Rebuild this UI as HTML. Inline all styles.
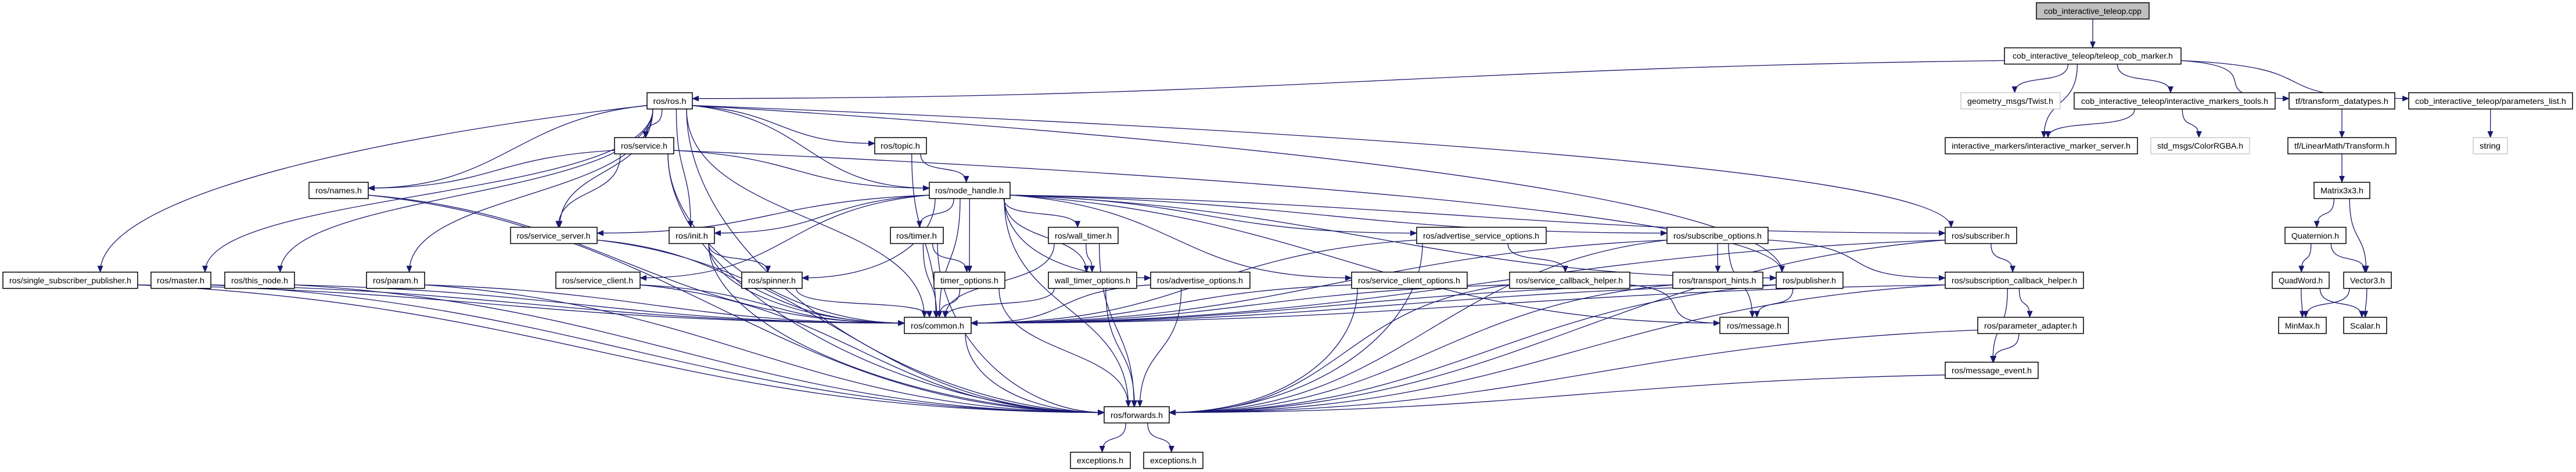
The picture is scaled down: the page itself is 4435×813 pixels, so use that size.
<!DOCTYPE html>
<html><head><meta charset="utf-8">
<style>
html,body{margin:0;padding:0;background:#fff;}
svg{display:block;}
text{font-family:"Liberation Sans",sans-serif;font-size:14px;fill:#000;}
</style></head>
<body>
<svg id="g" width="4435" height="813" viewBox="0 0 4435 813" xmlns="http://www.w3.org/2000/svg">
<defs>
<marker id="ah" markerUnits="userSpaceOnUse" markerWidth="12" markerHeight="10" refX="11" refY="5" orient="auto">
<path d="M0,0 L12,5 L0,10 z" fill="#191970"/>
</marker>
</defs>
<g id="edges" fill="none" stroke="#191970" stroke-width="1.3"></g>
<g id="boxes"></g>
<g id="labels" text-anchor="middle">
<text x="3603" y="24" textLength="168" lengthAdjust="spacingAndGlyphs">cob_interactive_teleop.cpp</text>
<text x="3603" y="101" textLength="276" lengthAdjust="spacingAndGlyphs">cob_interactive_teleop/teleop_cob_marker.h</text>
<text x="3461" y="179" textLength="148" lengthAdjust="spacingAndGlyphs">geometry_msgs/Twist.h</text>
<text x="3744" y="179" textLength="322" lengthAdjust="spacingAndGlyphs">cob_interactive_teleop/interactive_markers_tools.h</text>
<text x="4032" y="179" textLength="160" lengthAdjust="spacingAndGlyphs">tf/transform_datatypes.h</text>
<text x="4288" y="179" textLength="260" lengthAdjust="spacingAndGlyphs">cob_interactive_teleop/parameters_list.h</text>
<text x="3514" y="256" textLength="308" lengthAdjust="spacingAndGlyphs">interactive_markers/interactive_marker_server.h</text>
<text x="3788" y="256" textLength="148" lengthAdjust="spacingAndGlyphs">std_msgs/ColorRGBA.h</text>
<text x="4032" y="256" textLength="164" lengthAdjust="spacingAndGlyphs">tf/LinearMath/Transform.h</text>
<text x="4287" y="256" textLength="36" lengthAdjust="spacingAndGlyphs">string</text>
<text x="4032" y="333" textLength="74" lengthAdjust="spacingAndGlyphs">Matrix3x3.h</text>
<text x="3986" y="411" textLength="82" lengthAdjust="spacingAndGlyphs">Quaternion.h</text>
<text x="3961" y="488" textLength="76" lengthAdjust="spacingAndGlyphs">QuadWord.h</text>
<text x="4076" y="488" textLength="60" lengthAdjust="spacingAndGlyphs">Vector3.h</text>
<text x="3964" y="566" textLength="60" lengthAdjust="spacingAndGlyphs">MinMax.h</text>
<text x="4072" y="566" textLength="52" lengthAdjust="spacingAndGlyphs">Scalar.h</text>
<text x="3410" y="411" textLength="100" lengthAdjust="spacingAndGlyphs">ros/subscriber.h</text>
<text x="3468" y="488" textLength="216" lengthAdjust="spacingAndGlyphs">ros/subscription_callback_helper.h</text>
<text x="3496" y="566" textLength="160" lengthAdjust="spacingAndGlyphs">ros/parameter_adapter.h</text>
<text x="3429" y="643" textLength="138" lengthAdjust="spacingAndGlyphs">ros/message_event.h</text>
<text x="1153" y="179" textLength="57" lengthAdjust="spacingAndGlyphs">ros/ros.h</text>
<text x="1109" y="256" textLength="80" lengthAdjust="spacingAndGlyphs">ros/service.h</text>
<text x="1550" y="256" textLength="68" lengthAdjust="spacingAndGlyphs">ros/topic.h</text>
<text x="1669" y="333" textLength="118" lengthAdjust="spacingAndGlyphs">ros/node_handle.h</text>
<text x="583" y="333" textLength="80" lengthAdjust="spacingAndGlyphs">ros/names.h</text>
<text x="953" y="411" textLength="127" lengthAdjust="spacingAndGlyphs">ros/service_server.h</text>
<text x="1191" y="411" textLength="56" lengthAdjust="spacingAndGlyphs">ros/init.h</text>
<text x="1578" y="411" textLength="70" lengthAdjust="spacingAndGlyphs">ros/timer.h</text>
<text x="1865" y="411" textLength="98" lengthAdjust="spacingAndGlyphs">ros/wall_timer.h</text>
<text x="2550" y="411" textLength="200" lengthAdjust="spacingAndGlyphs">ros/advertise_service_options.h</text>
<text x="2957" y="411" textLength="152" lengthAdjust="spacingAndGlyphs">ros/subscribe_options.h</text>
<text x="121" y="488" textLength="210" lengthAdjust="spacingAndGlyphs">ros/single_subscriber_publisher.h</text>
<text x="311" y="488" textLength="82" lengthAdjust="spacingAndGlyphs">ros/master.h</text>
<text x="447" y="488" textLength="98" lengthAdjust="spacingAndGlyphs">ros/this_node.h</text>
<text x="681" y="488" textLength="78" lengthAdjust="spacingAndGlyphs">ros/param.h</text>
<text x="1029" y="488" textLength="122" lengthAdjust="spacingAndGlyphs">ros/service_client.h</text>
<text x="1329" y="488" textLength="82" lengthAdjust="spacingAndGlyphs">ros/spinner.h</text>
<text x="1669" y="488" textLength="100" lengthAdjust="spacingAndGlyphs">timer_options.h</text>
<text x="1881" y="488" textLength="130" lengthAdjust="spacingAndGlyphs">wall_timer_options.h</text>
<text x="2066" y="488" textLength="148" lengthAdjust="spacingAndGlyphs">ros/advertise_options.h</text>
<text x="2426" y="488" textLength="176" lengthAdjust="spacingAndGlyphs">ros/service_client_options.h</text>
<text x="2702" y="488" textLength="184" lengthAdjust="spacingAndGlyphs">ros/service_callback_helper.h</text>
<text x="2957" y="488" textLength="133" lengthAdjust="spacingAndGlyphs">ros/transport_hints.h</text>
<text x="3115" y="488" textLength="92" lengthAdjust="spacingAndGlyphs">ros/publisher.h</text>
<text x="1614" y="566" textLength="92" lengthAdjust="spacingAndGlyphs">ros/common.h</text>
<text x="3020" y="566" textLength="94" lengthAdjust="spacingAndGlyphs">ros/message.h</text>
<text x="1957" y="720" textLength="90" lengthAdjust="spacingAndGlyphs">ros/forwards.h</text>
<text x="1894" y="798" textLength="80" lengthAdjust="spacingAndGlyphs">exceptions.h</text>
<text x="2020" y="798" textLength="80" lengthAdjust="spacingAndGlyphs">exceptions.h</text>
</g>
</svg>
<script>
var RC=[18.7,96.4,173.7,251,328,405.5,482.7,560.5,637.8,714.5,793];
var N={
cpp:[3506,3700,0,'f'],mk:[3451,3755,1],twist:[3376,3547,2,'g'],imt:[3571,3917,2],tfd:[3941,4123,2],pl:[4147,4429,2],
ims:[3349,3680,3],rgba:[3703,3873,3,'g'],tr:[3939,4125,3],str:[4258,4317,3,'g'],m33:[3984,4080,4],q:[3934,4039,5],
qw:[3912,4010,6],v3:[4035,4117,6],mm:[3923,4005,7],sc:[4035,4109,7],sub:[3349,3472,5],sch:[3349,3587,6],pa:[3405,3587,7],
me:[3349,3509,8],ros:[1114,1192,2],srv:[1058,1160,3],topic:[1506,1595,3],nh:[1600,1739,4],names:[532,634,4],
ss:[879,1028,5],init:[1152,1230,5],timer:[1533,1624,5],wt:[1805,1925,5],aso:[2439,2662,5],so:[2870,3044,5],
ssp:[5,237,6],master:[260,363,6],tn:[387,507,6],param:[631,731,6],scl:[957,1102,6],spin:[1277,1381,6],to:[1608,1730,6],
wto:[1805,1957,6],ao:[1981,2152,6],sco:[2327,2526,6],scbh:[2599,2806,6],th:[2880,3035,6],pub:[3058,3173,6],
common:[1557,1672,7],msg:[2961,3079,7],fw:[1901,2013,9],ex1:[1843,1946,10],ex2:[1969,2071,10]};
var E="cpp>mk mk>ros mk>twist mk>imt mk>tfd mk>pl mk>ims imt>ims imt>rgba tfd>tr pl>str tr>m33 m33>q m33>v3 q>qw q>v3 qw>mm qw>sc v3>mm v3>sc "+
"ros>srv ros>topic ros>nh ros>init ros>names ros>ss ros>ssp ros>master ros>tn ros>param ros>common ros>sub ros>pub ros>fw "+
"srv>names srv>nh srv>ss srv>common srv>fw srv>pub topic>nh topic>common "+
"nh>init nh>spin nh>timer nh>to nh>wt nh>wto nh>ao nh>common nh>fw nh>ss nh>scl nh>aso nh>so nh>sco nh>pub nh>sub nh>msg "+
"init>spin init>common init>fw timer>to timer>common timer>fw wt>wto wt>common wt>fw names>common names>fw ss>common ss>fw "+
"scl>common scl>fw ssp>common ssp>fw master>common master>fw tn>common tn>fw param>common param>fw spin>common to>common to>fw "+
"wto>common wto>fw ao>common ao>fw aso>scbh aso>common aso>fw so>th so>sch so>common so>fw so>msg sco>common sco>fw "+
"scbh>common scbh>fw scbh>msg th>common th>fw pub>msg pub>common pub>fw sub>sch sub>common sub>fw sch>pa sch>me sch>common sch>fw "+
"pa>me pa>fw me>fw common>fw fw>ex1 fw>ex2";
var NS="http://www.w3.org/2000/svg";
var bx=document.getElementById('boxes'),eg=document.getElementById('edges');
for(var k in N){var n=N[k];var r=document.createElementNS(NS,'rect');
r.setAttribute('x',n[0]);r.setAttribute('y',RC[n[2]]-14);r.setAttribute('width',n[1]-n[0]);r.setAttribute('height',28);
r.setAttribute('fill',n[3]=='f'?'#bfbfbf':'#fff');r.setAttribute('stroke',n[3]=='g'?'#bfbfbf':'#000');r.setAttribute('stroke-width',n[3]=='g'?1.2:1.5);
bx.appendChild(r);}
E.split(' ').forEach(function(e){if(!e)return;var p=e.split('>'),s=N[p[0]],t=N[p[1]];
var scx=(s[0]+s[1])/2,tcx=(t[0]+t[1])/2,scy=RC[s[2]],tcy=RC[t[2]];
var dx=tcx-scx,dy=tcy-scy,sx,sy,ex,ey,c1x,c1y,c2x,c2y;
var sgn=dx>=0?1:-1,adx=Math.abs(dx),ady=Math.abs(dy);
var sideS=dy<=0||(adx>3*ady&&adx>300);
var big=(p[1]=='fw'||p[1]=='common'||p[1]=='msg');
var sideE=dy<=0||(adx>1.2*ady&&adx>300&&(big||t[2]-s[2]<=2));
if(sideS){sx=sgn>0?s[1]:s[0];sy=dy>0?scy+8:scy;c1x=sx+dx*0.4;c1y=sy+(dy>0?dy*0.15:0);}
else{sx=Math.max(s[0]+10,Math.min(s[1]-10,scx+dx*0.3));sy=scy+14;c1x=sx;c1y=sy+dy*0.5;}
if(sideE){ex=sgn>0?t[0]:t[1];ey=dy>0?tcy-4:tcy;c2x=ex-dx*0.4;c2y=ey;}
else{ex=Math.max(t[0]+10,Math.min(t[1]-10,tcx-dx*0.05));ey=tcy-14;c2x=ex;c2y=ey-dy*0.45;}
var pa=document.createElementNS(NS,'path');
pa.setAttribute('d','M'+sx+','+sy+' C'+c1x+','+c1y+' '+c2x+','+c2y+' '+ex+','+ey);
pa.setAttribute('marker-end','url(#ah)');eg.appendChild(pa);});
</script>
</body></html>
